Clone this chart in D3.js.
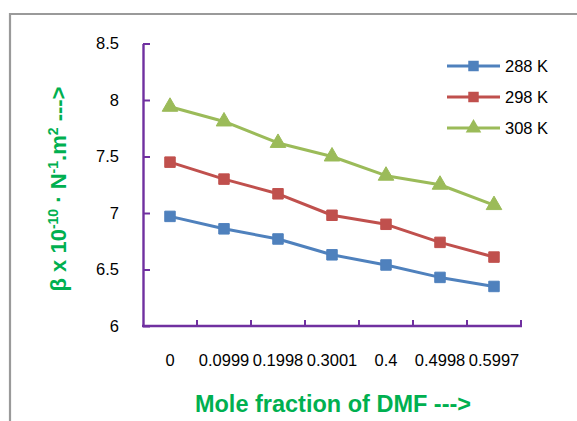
<!DOCTYPE html>
<html>
<head>
<meta charset="utf-8">
<script src="https://cdn.jsdelivr.net/npm/d3@7"></script>
<style>
  html, body { margin: 0; padding: 0; background: #fff; }
  svg { display: block; }
  text { font-family: "Liberation Sans", Arial, sans-serif; }
</style>
</head>
<body>
<svg id="chart" width="577" height="421"></svg>
<script>
// Mole fraction of DMF (category labels)
const categories = ["0", "0.0999", "0.1998", "0.3001", "0.4", "0.4998", "0.5997"];
// Adiabatic compressibility β (×10⁻¹⁰ N⁻¹·m²) at each temperature
const beta288 = [6.97, 6.86, 6.77, 6.63, 6.54, 6.43, 6.35];
const beta298 = [7.45, 7.30, 7.17, 6.98, 6.90, 6.74, 6.61];
const beta308 = [7.94, 7.81, 7.62, 7.50, 7.33, 7.25, 7.07];
const seriesNames = ["288 K", "298 K", "308 K"];
const yTicks = [6, 6.5, 7, 7.5, 8, 8.5];

const series = [
  { name: seriesNames[0], values: beta288, color: "#4F81BD", marker: "square" },
  { name: seriesNames[1], values: beta298, color: "#C0504D", marker: "square" },
  { name: seriesNames[2], values: beta308, color: "#9BBB59", marker: "triangle" }
];

const svg = d3.select("#chart");
const axisColor = "#7030A0";
const titleColor = "#00B050";

// outer chart frame
svg.append("path")
  .attr("d", "M10,421 V14 H577")
  .attr("fill", "none")
  .attr("stroke", "#9a9a9a")
  .attr("stroke-width", 2.2);

const plot = { left: 143, right: 521, top: 43.5, bottom: 326 };

const x = d3.scaleBand().domain(categories).range([plot.left, plot.right]);
const y = d3.scaleLinear().domain([6, 8.5]).range([plot.bottom, plot.top]);

// y axis (ticks inside)
const yAxis = svg.append("g").attr("transform", `translate(${plot.left},0)`)
  .call(d3.axisLeft(y).tickValues(yTicks).tickSizeInner(-7).tickSizeOuter(0)
        .tickFormat(d3.format("")));
yAxis.select(".domain").attr("stroke", axisColor).attr("stroke-width", 2.4);
yAxis.selectAll(".tick line").attr("stroke", axisColor).attr("stroke-width", 2);
yAxis.selectAll(".tick text")
  .attr("x", -24).attr("fill", "#000")
  .style("font-size", "16.5px").style("font-family", "'Liberation Sans', Arial, sans-serif");

// x axis: category boundaries carry the tick marks
const xg = svg.append("g").attr("transform", `translate(0,${plot.bottom})`);
xg.append("line")
  .attr("x1", plot.left - 1).attr("x2", plot.right + 1)
  .attr("stroke", axisColor).attr("stroke-width", 2.4);
xg.selectAll("line.tk").data(categories).join("line")
  .attr("class", "tk")
  .attr("x1", d => x(d) + x.bandwidth()).attr("x2", d => x(d) + x.bandwidth())
  .attr("y1", 0).attr("y2", -6)
  .attr("stroke", axisColor).attr("stroke-width", 2);
xg.selectAll("text.lbl").data(categories).join("text")
  .attr("class", "lbl")
  .attr("x", d => x(d) + x.bandwidth() / 2)
  .attr("y", 40)
  .attr("text-anchor", "middle")
  .style("font-size", "16.5px")
  .text(d => d);

// series lines and markers
const line = d3.line()
  .x((d, i) => x(categories[i]) + x.bandwidth() / 2)
  .y(d => y(d));

const markerSymbol = s => d3.symbol()
  .type(s.marker === "square" ? d3.symbolSquare : d3.symbolTriangle)
  .size(s.marker === "square" ? 110 : 105);

series.forEach(s => {
  svg.append("path")
    .datum(s.values)
    .attr("fill", "none")
    .attr("stroke", s.color)
    .attr("stroke-width", 3)
    .attr("stroke-linejoin", "round")
    .attr("d", line);
  svg.append("g").selectAll("path").data(s.values).join("path")
    .attr("transform", (d, i) => `translate(${x(categories[i]) + x.bandwidth() / 2},${y(d)})`)
    .attr("d", markerSymbol(s))
    .attr("fill", s.color)
    .attr("stroke", s.color)
    .attr("stroke-width", 1);
});

// legend
const legend = svg.append("g");
series.forEach((s, i) => {
  const ly = 66 + i * 31;
  legend.append("line")
    .attr("x1", 447).attr("x2", 500).attr("y1", ly).attr("y2", ly)
    .attr("stroke", s.color).attr("stroke-width", 3);
  legend.append("path")
    .attr("transform", `translate(473.5,${ly})`)
    .attr("d", markerSymbol(s))
    .attr("fill", s.color);
  legend.append("text")
    .attr("x", 505).attr("y", ly + 6)
    .style("font-size", "16.5px")
    .text(s.name);
});

// axis titles
svg.append("text")
  .attr("x", 333).attr("y", 412)
  .attr("text-anchor", "middle")
  .attr("fill", titleColor)
  .style("font-size", "23.5px").style("font-weight", "bold")
  .text("Mole fraction of DMF --->");

const yt = svg.append("text")
  .attr("transform", "translate(66,189) rotate(-90)")
  .attr("text-anchor", "middle")
  .attr("fill", titleColor)
  .style("font-size", "22px").style("font-weight", "bold");
yt.append("tspan").text("β x 10");
yt.append("tspan").attr("dy", -8).style("font-size", "14px").text("-10");
yt.append("tspan").attr("dy", 8).text(" · N");
yt.append("tspan").attr("dy", -8).style("font-size", "14px").text("-1");
yt.append("tspan").attr("dy", 8).text(".m");
yt.append("tspan").attr("dy", -8).style("font-size", "14px").text("2");
yt.append("tspan").attr("dy", 8).text("  --->");
</script>
</body>
</html>
